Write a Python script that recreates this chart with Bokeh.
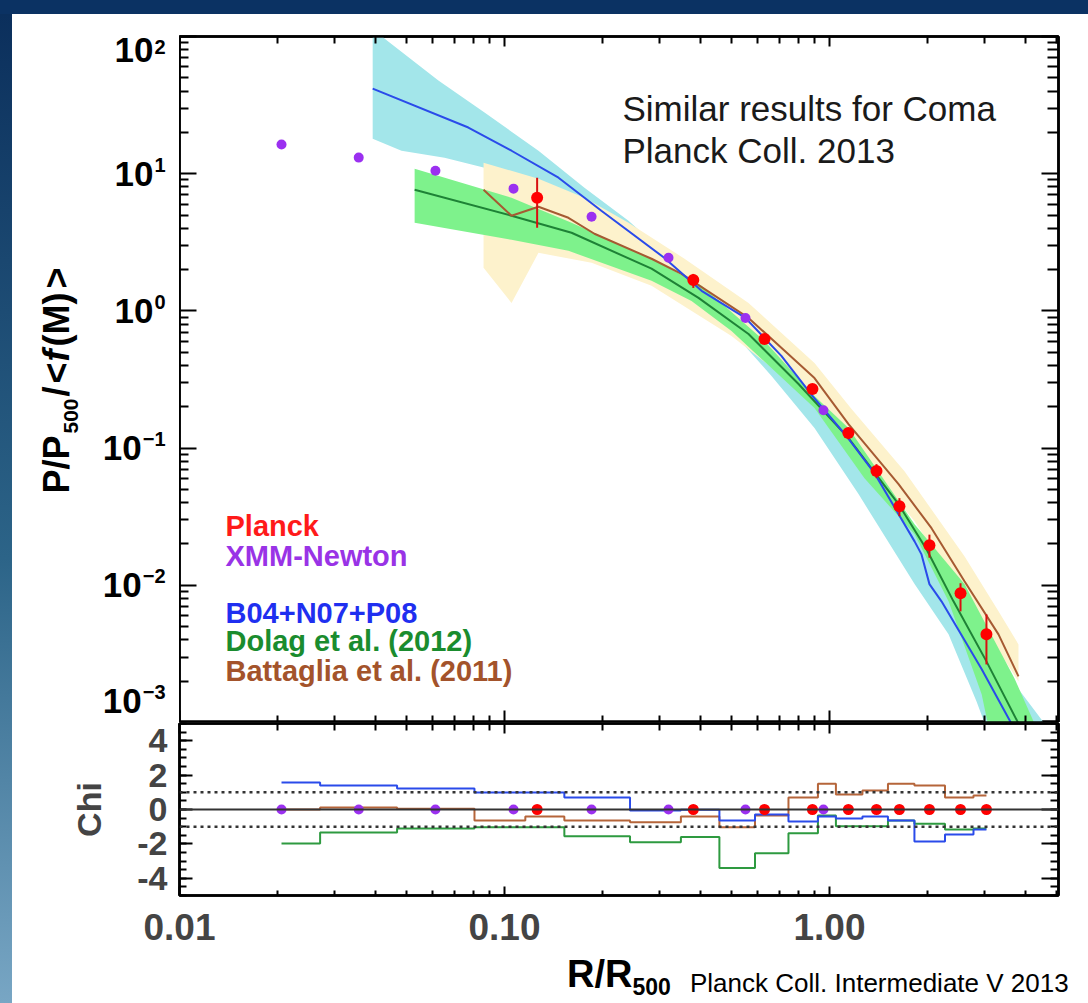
import math
from bokeh.plotting import figure
from bokeh.models import (Range1d, LogAxis, LinearAxis, FixedTicker, Label, Span,
                          CustomJSTickFormatter, Spacer, Div)
from bokeh.layouts import column, row
from bokeh.embed import file_html
from bokeh.resources import INLINE

FONT = "Liberation Sans"

# ---------------- data ----------------
planck_x = [0.126, 0.381, 0.631, 0.886, 1.143, 1.395, 1.641, 2.03, 2.53, 3.04]
planck_y = [6.68, 1.68, 0.625, 0.270, 0.129, 0.068, 0.0377, 0.0196, 0.00875, 0.00439]
planck_lo = [4.03, 1.47, 0.583, 0.248, 0.116, 0.0604, 0.0319, 0.0159, 0.00646, 0.00265]
planck_hi = [9.35, 1.86, 0.668, 0.293, 0.140, 0.0764, 0.0432, 0.0234, 0.01035, 0.00614]

xmm_x = [0.0206, 0.0356, 0.0613, 0.1066, 0.1853, 0.3196, 0.5514, 0.958]
xmm_y = [16.3, 13.1, 10.5, 7.78, 4.85, 2.44, 0.889, 0.189]

b04_x = [0.0393, 0.0774, 0.1051, 0.1466, 0.1986, 0.310, 0.404, 0.551, 0.711, 0.886,
         1.127, 1.375, 1.827, 1.919, 2.03, 2.211, 2.94, 3.63, 3.90]
b04_y = [41.7, 21.7, 14.7, 9.35, 5.37, 2.44, 1.40, 0.889, 0.47, 0.24,
         0.1225, 0.0657, 0.0209, 0.0168, 0.0102, 0.00764, 0.00244, 0.00098, 0.00067]

dolag_x = [0.0529, 0.1051, 0.1608, 0.2834, 0.3953, 0.5633, 0.8029, 1.144, 1.631, 1.988,
           2.407, 3.04, 3.815, 4.04]
dolag_y = [7.64, 4.94, 3.71, 2.03, 1.244, 0.679, 0.2933, 0.1183, 0.0390, 0.01832,
           0.00764, 0.00279, 0.000983, 0.000726]

batt_x = [0.0862, 0.1051, 0.1272, 0.1573, 0.1891, 0.2834, 0.3504, 0.5633, 0.899, 1.144,
          1.631, 2.06, 2.602, 3.311, 3.815]
batt_y = [7.64, 4.94, 5.74, 4.77, 3.65, 2.40, 1.863, 0.889, 0.324, 0.1497,
          0.0546, 0.02607, 0.01070, 0.00439, 0.002167]

# uncertainty bands: upper and lower edges
cyan_up_x = [0.0393, 0.0427, 0.0626, 0.0868, 0.1272, 0.1762, 0.2407, 0.358, 0.536, 0.820,
             1.254, 1.919, 2.94, 3.382, 4.586, 4.994]
cyan_up_y = [131, 96.7, 47.7, 27.9, 14.7, 7.90, 4.54, 1.959, 1.034, 0.3648,
             0.1034, 0.0209, 0.0039, 0.002563, 0.000983, 0.000726]
cyan_lo_x = [0.0393, 0.0482, 0.0654, 0.0868, 0.1237, 0.1813, 0.2512, 0.3504, 0.4994, 0.663,
             0.899, 1.228, 1.827, 2.324, 2.834, 3.151]
cyan_lo_y = [18.0, 14.7, 13.09, 11.06, 7.90, 4.94, 3.084, 1.601, 0.7145, 0.3353,
             0.140, 0.0462, 0.0102, 0.00439, 0.001423, 0.000726]

green_up_x = [0.0529, 0.1051, 0.1608, 0.2834, 0.4039, 0.631, 0.899, 1.144, 1.827, 2.602,
              3.709, 4.272, 4.49]
green_up_y = [10.88, 6.68, 4.387, 2.40, 1.522, 0.604, 0.2397, 0.140, 0.02788, 0.0102,
              0.002095, 0.000983, 0.000726]
green_lo_x = [0.0529, 0.1051, 0.1573, 0.2834, 0.3762, 0.4994, 0.899, 1.281, 1.827, 2.324,
              2.94, 3.151]
green_lo_y = [4.387, 3.298, 2.742, 1.656, 1.183, 0.7145, 0.1959, 0.0604, 0.02357, 0.00764,
              0.001601, 0.000726]

yellow_up_x = [0.0862, 0.1272, 0.1762, 0.2407, 0.358, 0.5633, 0.899, 1.169, 1.701, 2.602,
               3.311, 3.815]
yellow_up_y = [12.03, 9.19, 6.68, 4.387, 2.40, 1.144, 0.4173, 0.1926, 0.0679, 0.01628,
               0.00646, 0.00371]
yellow_lo_x = [0.0862, 0.1051, 0.1272, 0.1853, 0.2834, 0.4994, 0.899, 1.827, 3.815]
yellow_lo_y = [2.06, 1.144, 2.651, 2.241, 1.522, 0.657, 0.2203, 0.02933, 0.001992]

# residuals (Chi) per data point, points sorted by radius
chi_blue = [1.57, 1.40, 1.22, 0.99, 0.99, 0.70, -0.06, -0.02, -0.64, -0.29,
            -0.70, -0.40, -0.52, -0.40, -0.64, -1.86, -1.45, -1.16]
chi_green = [-1.98, -1.34, -1.10, -1.03, -1.03, -1.56, -1.90, -1.60, -3.40, -2.55,
             -1.38, -0.35, -0.97, -0.97, -0.64, -0.83, -1.16, -1.10]
chi_brown = [0.0, 0.12, 0.04, -0.64, -0.40, -0.64, -0.74, -0.40, -1.03, -0.35,
             0.70, 1.50, 0.87, 1.10, 1.50, 1.40, 0.70, 0.81]

# ticks
x_major = [0.01, 0.1, 1.0]
x_minor = [m * 10.0 ** e for e in (-2, -1, 0) for m in range(2, 10)]
y_major = [1e2, 1e1, 1e0, 1e-1, 1e-2, 1e-3]
y_exp = ["2", "1", "0", "\u22121", "\u22122", "\u22123"]
y_minor = [m * 10.0 ** e for e in range(-3, 2) for m in range(2, 10)]
chi_major = [-4, -2, 0, 2, 4]
chi_minor = [k * 0.5 for k in range(-10, 11)]

legend_items = [("Planck", "#ff1a1a"), ("XMM-Newton", "#9933e6"),
                ("B04+N07+P08", "#1f2ff0"), ("Dolag et al. (2012)", "#1a8c2e"),
                ("Battaglia et al. (2011)", "#a3532b")]

# ---------------- colours ----------------
C_CYAN = "#a3e6ea"
C_GREENBAND = "#7ef28c"
C_YELLOW = "#fdf2cc"
C_BLUE = "#2a4bea"
C_GREEN = "#1e8236"
C_BROWN = "#a65a32"
C_RED = "#ff0000"
C_PURPLE = "#9b30f0"

XR = Range1d(0.01, 5.065)
YR = Range1d(1e-3, 1e2)
GUTTER = 167


def frame_axis(ax, major_in, minor_in, labels=False):
    ax.major_tick_in = major_in
    ax.major_tick_out = 0
    ax.minor_tick_in = minor_in
    ax.minor_tick_out = 0
    ax.axis_line_color = "black"
    ax.axis_line_width = 2.5
    ax.major_tick_line_color = "black"
    ax.major_tick_line_width = 2
    ax.minor_tick_line_color = "black"
    ax.minor_tick_line_width = 2
    if not labels:
        ax.formatter = CustomJSTickFormatter(code="return ''")
        ax.major_label_text_font_size = "0px"
        ax.major_label_standoff = 0
    return ax


def blank(fig):
    fig.grid.visible = False
    fig.outline_line_color = None
    fig.background_fill_color = "white"
    fig.border_fill_color = "white"
    return fig


# ---------------- main panel ----------------
p = figure(width=1076 - GUTTER, height=708, x_axis_type="log", y_axis_type="log",
           x_range=XR, y_range=YR,
           x_axis_location=None, y_axis_location=None,
           output_backend="svg", toolbar_location=None,
           min_border_left=0, min_border_right=30, min_border_top=22, min_border_bottom=0)
p.grid.visible = False
p.outline_line_color = "black"
p.outline_line_width = 2.5
p.background_fill_color = "white"
p.border_fill_color = "white"

yt = FixedTicker(ticks=y_major, minor_ticks=y_minor)
xt = FixedTicker(ticks=x_major, minor_ticks=x_minor)
p.add_layout(frame_axis(LogAxis(ticker=yt), 17, 9), "left")
p.add_layout(frame_axis(LogAxis(ticker=yt), 17, 11), "right")
p.add_layout(frame_axis(LogAxis(ticker=xt), 10, 7), "above")
p.add_layout(frame_axis(LogAxis(ticker=xt), 12, 7), "below")

p.patch(cyan_up_x + cyan_lo_x[::-1], cyan_up_y + cyan_lo_y[::-1],
        fill_color=C_CYAN, line_color=None)
p.patch(yellow_up_x + yellow_lo_x[::-1], yellow_up_y + yellow_lo_y[::-1],
        fill_color=C_YELLOW, line_color=None)
p.patch(green_up_x + green_lo_x[::-1], green_up_y + green_lo_y[::-1],
        fill_color=C_GREENBAND, line_color=None)
p.line(dolag_x, dolag_y, line_color=C_GREEN, line_width=2)
p.line(batt_x, batt_y, line_color=C_BROWN, line_width=2)
p.line(b04_x, b04_y, line_color=C_BLUE, line_width=2)
p.segment(x0=planck_x, y0=planck_lo, x1=planck_x, y1=planck_hi, line_color="#d81010", line_width=2)
p.scatter(planck_x, planck_y, size=12, fill_color=C_RED, line_color=None)
p.scatter(xmm_x, xmm_y, size=10, fill_color=C_PURPLE, line_color=None)

X0 = XR.start
# legend text
for (txt, col), yo in zip(legend_items, [197, 167, 110, 82, 52]):
    p.add_layout(Label(x=X0, y=1e-3, x_offset=46, y_offset=yo, text=txt,
                       text_align="left", text_baseline="middle", text_font=FONT,
                       text_font_style="bold", text_font_size="29px", text_color=col))

# annotation
for txt, yo in [("Similar results for Coma", -72), ("Planck Coll. 2013", -114)]:
    p.add_layout(Label(x=X0, y=1e2, x_offset=443, y_offset=yo, text=txt,
                       text_align="left", text_baseline="middle", text_font=FONT,
                       text_font_size="35px", text_color="#1a1a1a"))

# ---------------- gutter holding the y tick labels and y title ----------------
# (its frame is aligned with the main panel's frame by the row layout)
g = figure(width=GUTTER, height=708, y_axis_type="log",
           x_range=Range1d(0, GUTTER), y_range=YR,
           x_axis_location=None, y_axis_location=None,
           output_backend="svg", toolbar_location=None,
           min_border_left=0, min_border_right=0, min_border_top=22, min_border_bottom=0)
blank(g)

EXP_FS = 20
EXP_RIGHT = 153
n_y = len(y_major)
for i, (v, e) in enumerate(zip(y_major, y_exp)):
    ew = sum(0.584 if c == "\u2212" else 0.556 for c in e) * EXP_FS
    if i == 0:
        base, base_off, exp_off = "top", -1, -3
    elif i == n_y - 1:
        base, base_off, exp_off = "middle", 22, 38
    else:
        base, base_off, exp_off = "middle", 0, 16
    g.add_layout(Label(x=EXP_RIGHT, y=v, y_offset=exp_off, text=e,
                       text_align="right", text_baseline="top", text_font=FONT,
                       text_font_style="bold", text_font_size=f"{EXP_FS}px", text_color="black"))
    g.add_layout(Label(x=EXP_RIGHT - ew - 1, y=v, y_offset=base_off, text="10",
                       text_align="right", text_baseline=base, text_font=FONT,
                       text_font_style="bold", text_font_size="35px", text_color="black"))

title_parts = [("P/P", 229, "36px", "bold", 44), ("500", 289, "21px", "bold", 58),
               ("/", 326, "36px", "bold", 44), ("<", 339, "36px", "bold", 44),
               ("f", 361, "36px", "bold italic", 44), ("(M)", 376, "36px", "bold", 44),
               (">", 434, "36px", "bold", 44)]
for txt, off, fs, st, gx in title_parts:
    g.add_layout(Label(x=gx, y=1e-3, y_offset=off, text=txt, angle=math.pi / 2,
                       text_align="left", text_baseline="middle", text_font=FONT,
                       text_font_style=st, text_font_size=fs, text_color="black"))

# ---------------- Chi panel ----------------
q = figure(width=1076, height=234, x_axis_type="log",
           x_range=XR, y_range=Range1d(-5, 5),
           x_axis_location=None, y_axis_location=None,
           output_backend="svg", toolbar_location=None,
           min_border_left=GUTTER, min_border_right=30, min_border_top=1, min_border_bottom=61)
q.grid.visible = False
q.outline_line_color = "black"
q.outline_line_width = 2.5
q.background_fill_color = "white"
q.border_fill_color = "white"

ct = FixedTicker(ticks=chi_major, minor_ticks=chi_minor)
left = frame_axis(LinearAxis(ticker=ct), 13, 7, labels=True)
left.formatter = CustomJSTickFormatter(code="return tick.toFixed(0)")
left.major_label_text_font = FONT
left.major_label_text_font_style = "bold"
left.major_label_text_font_size = "34px"
left.major_label_standoff = 12
left.axis_label = "Chi"
left.axis_label_text_font = FONT
left.axis_label_text_font_style = "bold"
left.axis_label_text_font_size = "34px"
left.axis_label_standoff = 26
q.add_layout(left, "left")
q.add_layout(frame_axis(LinearAxis(ticker=ct), 17, 8), "right")
q.add_layout(frame_axis(LogAxis(ticker=xt), 10, 7), "above")
bottom = frame_axis(LogAxis(ticker=xt), 9, 5, labels=True)
bottom.formatter = CustomJSTickFormatter(code="return tick.toFixed(2)")
bottom.major_label_text_font = FONT
bottom.major_label_text_font_style = "bold"
bottom.major_label_text_font_size = "37px"
bottom.major_label_standoff = 18
q.add_layout(bottom, "below")

q.add_layout(Span(location=0, dimension="width", line_color="#333333", line_width=2))
for loc in (1, -1):
    q.add_layout(Span(location=loc, dimension="width", line_color="#333333",
                      line_width=2.5, line_dash="3 4"))

all_x = sorted(planck_x + xmm_x)
q.step(all_x, chi_green, mode="center", line_color="#2e9a40", line_width=2)
q.step(all_x, chi_brown, mode="center", line_color="#b5653a", line_width=2)
q.step(all_x, chi_blue, mode="center", line_color=C_BLUE, line_width=2)
q.scatter(xmm_x, [0] * len(xmm_x), size=10, fill_color=C_PURPLE, line_color=None)
q.scatter(planck_x, [0] * len(planck_x), size=11, fill_color=C_RED, line_color=None)

# ---------------- x title strip ----------------
xtitle_html = (
    '<div style="position:relative;width:1076px;height:47px;font-family:\'Liberation Sans\';color:#000;">'
    '<span style="position:absolute;left:555px;top:-1px;font-weight:bold;font-size:38px;'
    'line-height:38px;white-space:nowrap;">R/R<span style="font-size:23px;position:relative;top:8px;">500</span></span>'
    '<span style="position:absolute;left:678px;top:14px;font-size:26px;line-height:26px;'
    'white-space:nowrap;">Planck Coll. Intermediate V 2013</span>'
    '</div>'
)
s = Div(text=xtitle_html, width=1076, height=47, margin=(0, 0, 0, 0))

# ---------------- page frame ----------------
top_bar = Spacer(width=1088, height=14, styles={"background": "#0b3263"})
left_bar = Spacer(width=12, height=989,
                  styles={"background": "linear-gradient(to bottom, #0b2f5c 0%, #2c6488 55%, #78a6c4 100%)"})
layout = column(top_bar, row(left_bar, column(row(g, p), q, s)))

open("out.html", "w").write(file_html(layout, INLINE))
